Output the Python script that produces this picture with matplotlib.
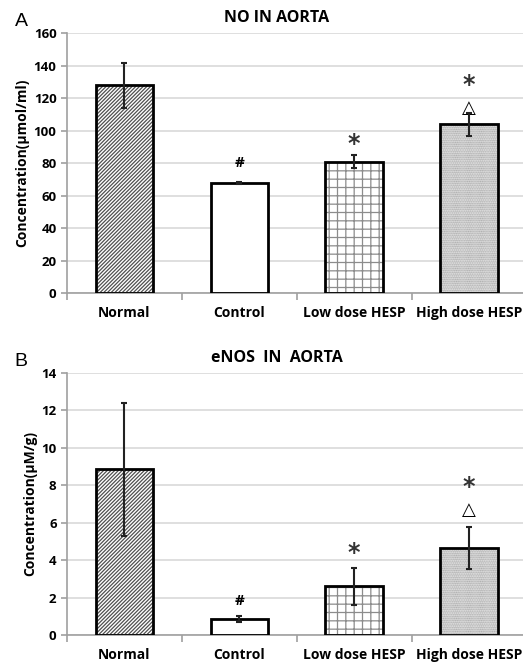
import matplotlib.pyplot as plt

plt.rcParams['font.family'] = ['Open Sans', 'DejaVu Sans']
plt.rcParams['hatch.linewidth'] = 0.9

groups = ['Normal', 'Control', 'Low dose HESP', 'High dose HESP']
hatches = ['/////////', '', '++', '.........']
hatch_colors = ['#505050', '#707070', '#8c8c8c', '#8c8c8c']

# panel A: NO in aorta
no_mean = [128, 68, 81, 104]
no_err = [14, 0.6, 4, 7]
no_marks = [[], [('#', 80)], [('*', 92)], [('△', 114), ('*', 128)]]

# panel B: eNOS in aorta
enos_mean = [8.85, 0.85, 2.6, 4.65]
enos_err = [3.55, 0.15, 1.0, 1.1]
enos_marks = [[], [('#', 1.8)], [('*', 4.4)], [('△', 6.7), ('*', 7.9)]]


def panel(ax, mean, err, marks, ymax, step, ylabel, title, letter):
    x = range(len(groups))
    ax.set_axisbelow(True)
    ax.grid(axis='y', color='#d9d9d9', lw=1.2)
    # hatched fill in grey, then black outline on top
    for i in x:
        ax.bar(i, mean[i], width=0.5, color='white', edgecolor=hatch_colors[i],
               hatch=hatches[i], lw=0, zorder=2)
    ax.bar(x, mean, width=0.5, fill=False, edgecolor='black', lw=2, zorder=3)
    ax.errorbar(x, mean, yerr=err, fmt='none', ecolor='#222222', elinewidth=1.5,
                capsize=2.5, capthick=1.5, zorder=4)
    for i, mk in enumerate(marks):
        for s, y in mk:
            if s == '*':
                ax.text(i, y, s, ha='center', va='center', fontsize=17,
                        family='DejaVu Sans', fontweight='bold', color='#333333')
            elif s == '△':
                ax.text(i, y, s, ha='center', va='center', fontsize=13,
                        family='DejaVu Sans')
            else:
                ax.text(i, y, s, ha='center', va='center', fontsize=11,
                        fontweight='bold')
    ax.set_xlim(-0.5, 3.47)
    ax.set_ylim(0, ymax)
    ax.set_yticks(range(0, ymax + 1, step))
    ax.set_xticks(list(x))
    ax.set_xticklabels(groups, fontsize=10, fontweight='bold')
    ax.set_xticks([-0.5, 0.5, 1.5, 2.5], minor=True)
    ax.tick_params(axis='x', which='major', length=0, pad=9)
    ax.tick_params(axis='x', which='minor', length=5, color='#a0a0a0', width=1.2)
    ax.tick_params(axis='y', length=4, color='#a0a0a0', width=1.2, labelsize=9.5)
    for lab in ax.get_yticklabels():
        lab.set_fontweight('bold')
    for side in ['top', 'right']:
        ax.spines[side].set_visible(False)
    for side in ['left', 'bottom']:
        ax.spines[side].set_color('#a0a0a0')
        ax.spines[side].set_linewidth(1.2)
    ax.set_ylabel(ylabel, fontsize=10, fontweight='bold', labelpad=3)
    ax.set_title(title, fontsize=11.5, fontweight='bold', pad=8, x=0.46)
    ax.text(-0.115, 1.045, letter, transform=ax.transAxes, fontsize=14,
            family='Liberation Sans', va='center')


fig = plt.figure(figsize=(5.23, 6.66), dpi=100)
ax1 = fig.add_axes([0.128, 0.560, 0.872, 0.390])
ax2 = fig.add_axes([0.128, 0.0465, 0.872, 0.3935])

panel(ax1, no_mean, no_err, no_marks, 160, 20, 'Concentration(μmol/ml)', 'NO IN AORTA', 'A')
panel(ax2, enos_mean, enos_err, enos_marks, 14, 2, 'Concentration(μM/g)', 'eNOS  IN  AORTA', 'B')

fig.savefig('out.png', dpi=100)
